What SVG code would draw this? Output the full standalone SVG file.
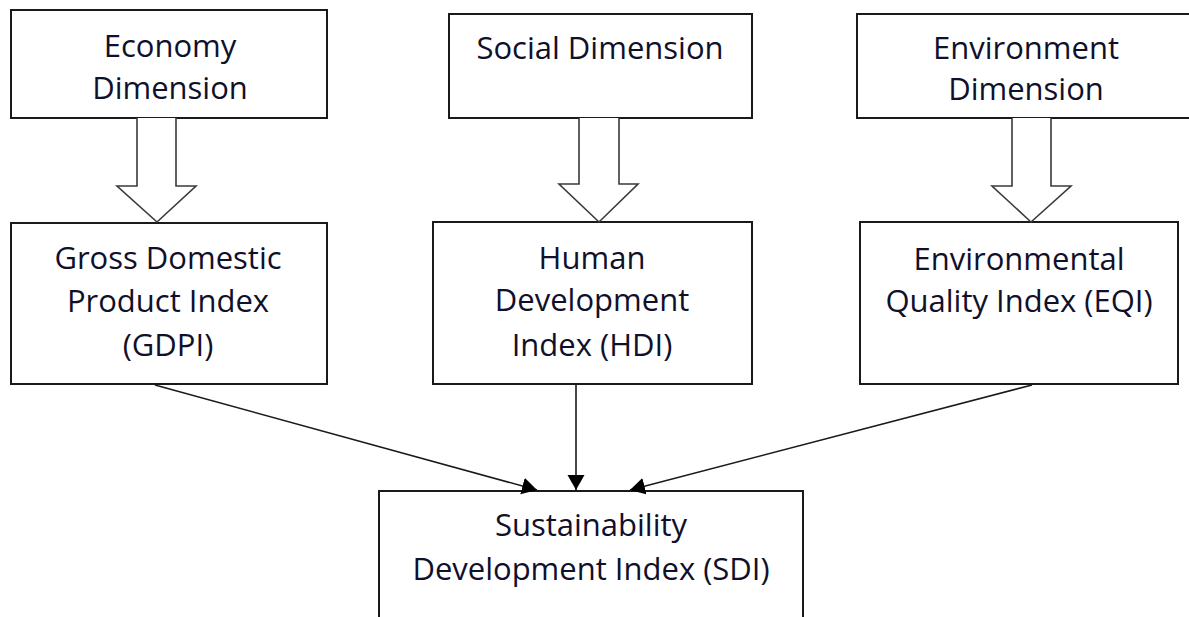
<svg xmlns="http://www.w3.org/2000/svg" width="1189" height="617" viewBox="0 0 1189 617">
  <style>
    .box { fill: #ffffff; stroke: #1a1a1a; stroke-width: 2; }
    .hollow { fill: #ffffff; stroke: #3a3a3a; stroke-width: 1.6; stroke-linejoin: miter; }
    .lbl { font-family: "Open Sans", "Liberation Sans", sans-serif; font-size: 31px; fill: #10102a; text-anchor: middle; }
    .conn { stroke: #1a1a1a; stroke-width: 1.6; fill: none; }
  </style>
  <defs>
    <marker id="head" markerUnits="userSpaceOnUse" markerWidth="16" markerHeight="18" refX="15" refY="8.5" orient="auto" viewBox="0 0 16 18">
      <path d="M0,0 L15,8.5 L0,17 Z" fill="#000000"/>
    </marker>
  </defs>
  <rect width="1189" height="617" fill="#ffffff"/>

  <g id="economy-dimension">
    <rect class="box" x="11" y="10" width="316" height="108"/>
    <text class="lbl" x="170" y="57">Economy</text>
    <text class="lbl" x="170" y="99">Dimension</text>
  </g>
  <g id="social-dimension">
    <rect class="box" x="449" y="14" width="303" height="104"/>
    <text class="lbl" x="600" y="59">Social Dimension</text>
  </g>
  <g id="environment-dimension">
    <rect class="box" x="857" y="14" width="340" height="104"/>
    <text class="lbl" x="1026" y="59">Environment</text>
    <text class="lbl" x="1026" y="100">Dimension</text>
  </g>

  <g id="gdpi">
    <rect class="box" x="11" y="223" width="316" height="161"/>
    <text class="lbl" x="168" y="269">Gross Domestic</text>
    <text class="lbl" x="168" y="312">Product Index</text>
    <text class="lbl" x="168" y="356">(GDPI)</text>
  </g>
  <g id="hdi">
    <rect class="box" x="433" y="222" width="319" height="162"/>
    <text class="lbl" x="592" y="269">Human</text>
    <text class="lbl" x="592" y="311">Development</text>
    <text class="lbl" x="592" y="356">Index (HDI)</text>
  </g>
  <g id="eqi">
    <rect class="box" x="860" y="222" width="318" height="162"/>
    <text class="lbl" x="1019" y="270">Environmental</text>
    <text class="lbl" x="1019" y="312">Quality Index (EQI)</text>
  </g>
  <g id="sdi">
    <rect class="box" x="379" y="491" width="424" height="140"/>
    <text class="lbl" x="591" y="536">Sustainability</text>
    <text class="lbl" x="591" y="580">Development Index (SDI)</text>
  </g>

  <g id="connectors">
    <path class="hollow" d="M137,118 L137,186 L117,186 L157,222 L196,186 L176,186 L176,118"/>
    <path class="hollow" d="M579,118 L579,184 L559,184 L599,222 L638,184 L619,184 L619,118"/>
    <path class="hollow" d="M1012,118 L1012,186 L992,186 L1031,222 L1071,186 L1051,186 L1051,118"/>
    <line class="conn" x1="155" y1="385" x2="537" y2="490" marker-end="url(#head)"/>
    <line class="conn" x1="576" y1="385" x2="576" y2="490" marker-end="url(#head)"/>
    <line class="conn" x1="1032" y1="385" x2="630" y2="490" marker-end="url(#head)"/>
  </g>
</svg>
